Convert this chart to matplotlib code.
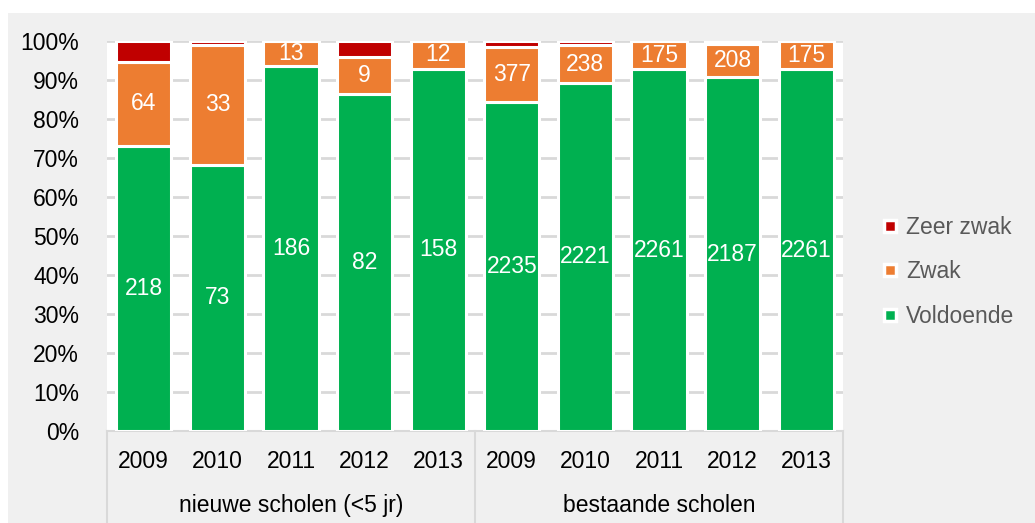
import matplotlib
matplotlib.use("Agg")
import matplotlib.pyplot as plt
from matplotlib.lines import Line2D
from matplotlib.patches import Rectangle
import numpy as np

# ---- data ----
years = ['2009', '2010', '2011', '2012', '2013', '2009', '2010', '2011', '2012', '2013']
groups = ['nieuwe scholen (<5 jr)', 'bestaande scholen']
voldoende = [218, 73, 186, 82, 158, 2235, 2221, 2261, 2187, 2261]
zwak = [64, 33, 13, 9, 12, 377, 238, 175, 208, 175]
zeer_zwak = [16, 1, 0, 4, 0, 38, 28, 0, 17, 0]
series_names = ['Voldoende', 'Zwak', 'Zeer zwak']
yticks = [0, 10, 20, 30, 40, 50, 60, 70, 80, 90, 100]

GREEN = '#00B050'
ORANGE = '#ED7D31'
RED = '#C00000'
BG = '#F0F0F0'
GRID = '#D9D9D9'
FONT = 'Liberation Sans'
FS = 16.5

plt.rcParams['font.family'] = [FONT, 'DejaVu Sans']

W, H = 1035, 523
fig = plt.figure(figsize=(W / 100, H / 100), dpi=100)
fig.patch.set_facecolor('white')
# grey chart background (small white margin at top/left)
fig.add_artist(Rectangle((8 / W, 0), 1, 1 - 13 / H, transform=fig.transFigure,
                         facecolor=BG, edgecolor='none', zorder=-10))

left, right, top, bottom = 107, 843, 41, 431
ax = fig.add_axes([left / W, 1 - bottom / H, (right - left) / W, (bottom - top) / H])
ax.set_facecolor('white')

v = np.array(voldoende, float)
z = np.array(zwak, float)
zz = np.array(zeer_zwak, float)
tot = v + z + zz
pv = v / tot * 100
pz = z / tot * 100
pzz = zz / tot * 100

x = np.arange(len(years))
bw = 0.75
LW = 2.2
ax.bar(x, pv, bw, color=GREEN, edgecolor='white', linewidth=LW, zorder=3, label=series_names[0])
ax.bar(x, pz, bw, bottom=pv, color=ORANGE, edgecolor='white', linewidth=LW, zorder=3, label=series_names[1])
ax.bar(x, pzz, bw, bottom=pv + pz, color=RED, edgecolor='white', linewidth=LW, zorder=3, label=series_names[2])

for i in range(len(x)):
    ax.text(x[i], pv[i] / 2, str(voldoende[i]), ha='center', va='center',
            color='white', fontsize=FS, zorder=5)
    ax.text(x[i], pv[i] + pz[i] / 2, str(zwak[i]), ha='center', va='center',
            color='white', fontsize=FS, zorder=5)

ax.set_xlim(-0.5, len(x) - 0.5)
ax.set_ylim(0, 100)
ax.set_yticks(yticks)
ax.set_yticklabels([f'{t}%' for t in yticks], fontsize=FS, color='black')
ax.tick_params(axis='y', length=0, pad=20)
ax.yaxis.grid(True, color=GRID, linewidth=2, zorder=0)
ax.set_axisbelow(True)
ax.set_xticks(x)
ax.set_xticklabels(years, fontsize=FS, color='black')
ax.tick_params(axis='x', length=0, pad=14)
for s in ['left', 'right', 'top']:
    ax.spines[s].set_visible(False)
ax.spines['bottom'].set_color(GRID)
ax.spines['bottom'].set_linewidth(1.5)

# group labels and separators
trans = ax.get_xaxis_transform()
for sep in [-0.5, 4.5, 9.5]:
    ax.add_line(Line2D([sep, sep], [0, -0.25], transform=trans, color=GRID,
                       linewidth=1.5, clip_on=False))
for gi, g in enumerate(groups):
    ax.text(gi * 5 + 2, -0.192, g, transform=trans, ha='center', va='center',
            fontsize=FS, color='black')

# legend
handles = [Line2D([], [], marker='s', linestyle='none', markersize=8,
                  markerfacecolor=c, markeredgecolor='white', markeredgewidth=2.5)
           for c in [RED, ORANGE, GREEN]]
leg = fig.legend(handles, ['Zeer zwak', 'Zwak', 'Voldoende'], loc='center left',
                 bbox_to_anchor=(860 / W, 1 - 272 / H), frameon=False,
                 fontsize=FS, labelspacing=0.95, handlelength=0.8, handletextpad=0.3)
for t in leg.get_texts():
    t.set_color('#595959')

fig.savefig('out.png', dpi=100, facecolor=fig.get_facecolor())
